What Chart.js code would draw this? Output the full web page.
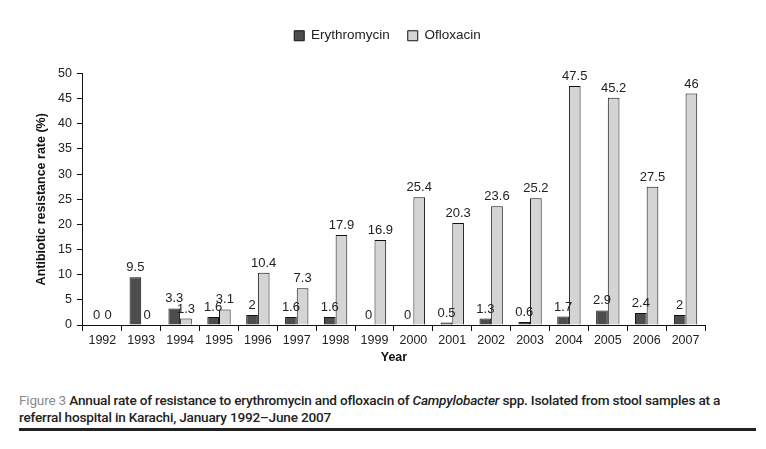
<!DOCTYPE html>
<html>
<head>
<meta charset="utf-8">
<script src="https://cdn.jsdelivr.net/npm/chart.js@4/dist/chart.umd.min.js"></script>
<style>
  body { margin: 0; background: #fff; }
  #wrap { position: relative; width: 766px; height: 449px; }
  #resistencia { position: absolute; left: 0; top: 0; }
  .leyenda {
    position: absolute; left: 19px; top: 392px; width: 745px;
    font-family: "Liberation Sans Narrow", "Roboto", "Liberation Sans", sans-serif;
    font-size: 13.6px; line-height: 17px; color: #222; font-weight: 500; letter-spacing: -0.2px;
  }
  .leyenda .fig { color: #8a8a8a; font-weight: 400; }
  .regla { position: absolute; left: 19px; top: 428px; width: 737px; height: 3px; background: #222; }
</style>
</head>
<body>
<div id="wrap">
  <canvas id="resistencia" width="766" height="372"></canvas>
  <div class="leyenda"><span class="fig">Figure 3</span> Annual rate of resistance to erythromycin and ofloxacin of <i>Campylobacter</i> spp. Isolated from stool samples at a<br>referral hospital in Karachi, January 1992–June 2007</div>
  <div class="regla"></div>
</div>
<script>
const anios = ["1992", "1993", "1994", "1995", "1996", "1997", "1998", "1999",
  "2000", "2001", "2002", "2003", "2004", "2005", "2006", "2007"];
const eritromicina = [0, 9.5, 3.3, 1.6, 2, 1.6, 1.6, 0, 0, 0.5, 1.3, 0.6, 1.7, 2.9, 2.4, 2];
const ofloxacina = [0, 0, 1.3, 3.1, 10.4, 7.3, 17.9, 16.9, 25.4, 20.3, 23.6, 25.2, 47.5, 45.2, 27.5, 46];
const ticksY = [0, 5, 10, 15, 20, 25, 30, 35, 40, 45, 50];

const fuente = "'Liberation Sans', Arial, sans-serif";

// etiquetas de valor encima de cada barra
const etiquetas = {
  id: "etiquetas",
  afterDatasetsDraw(chart) {
    const ctx = chart.ctx;
    ctx.save();
    ctx.font = "13px " + fuente;
    ctx.fillStyle = "#222";
    ctx.textAlign = "center";
    ctx.textBaseline = "bottom";
    chart.data.datasets.forEach((ds, i) => {
      chart.getDatasetMeta(i).data.forEach((bar, j) => {
        ctx.fillText(String(ds.data[j]), bar.x, bar.y - 3);
      });
    });
    ctx.restore();
  },
};

// espacio extra debajo de la leyenda y un poco corrida a la derecha
const margenLeyenda = {
  id: "margenLeyenda",
  beforeInit(chart) {
    const fit = chart.legend.fit;
    chart.legend.fit = function () {
      fit.bind(chart.legend)();
      this.height += 21;
    };
  },
  afterLayout(chart) {
    chart.legend.left += 20;
    chart.legend.right += 20;
  },
};

new Chart(document.getElementById("resistencia"), {
  type: "bar",
  data: {
    labels: anios,
    datasets: [
      {
        label: "Erythromycin",
        data: eritromicina,
        backgroundColor: "#4d4d4d",
        borderColor: "#111",
        borderWidth: 1,
        borderSkipped: "bottom",
        categoryPercentage: 0.6,
        barPercentage: 1.0,
      },
      {
        label: "Ofloxacin",
        data: ofloxacina,
        backgroundColor: "#d4d4d4",
        borderColor: "#111",
        borderWidth: 1,
        borderSkipped: "bottom",
        categoryPercentage: 0.6,
        barPercentage: 1.0,
      },
    ],
  },
  options: {
    responsive: false,
    animation: false,
    devicePixelRatio: 1,
    layout: { padding: { left: 30, right: 61, top: 11, bottom: 7 } },
    plugins: {
      legend: {
        position: "top",
        labels: {
          boxWidth: 10,
          boxHeight: 10,
          padding: 18,
          color: "#222",
          font: { family: fuente, size: 13.5 },
        },
      },
      tooltip: { enabled: false },
    },
    scales: {
      x: {
        offset: true,
        grid: { offset: true, drawOnChartArea: false, drawTicks: true, tickLength: 6, color: "#111" },
        border: { color: "#111", width: 1 },
        ticks: { color: "#222", font: { family: fuente, size: 12.5 }, padding: 2, maxRotation: 0, autoSkip: false },
        title: { display: true, text: "Year", color: "#111", font: { family: fuente, size: 12.5, weight: "bold" }, padding: 0 },
      },
      y: {
        min: 0,
        max: 50,
        afterBuildTicks: (scale) => { scale.ticks = ticksY.map((v) => ({ value: v })); },
        grid: { drawOnChartArea: false, drawTicks: true, tickLength: 6, color: "#111" },
        border: { color: "#111", width: 1 },
        ticks: { color: "#222", font: { family: fuente, size: 12.5 }, padding: 5 },
        title: { display: true, text: "Antibiotic resistance rate (%)", color: "#111", font: { family: fuente, size: 12.5, weight: "bold" }, padding: 4 },
      },
    },
  },
  plugins: [etiquetas, margenLeyenda],
});
</script>
</body>
</html>
